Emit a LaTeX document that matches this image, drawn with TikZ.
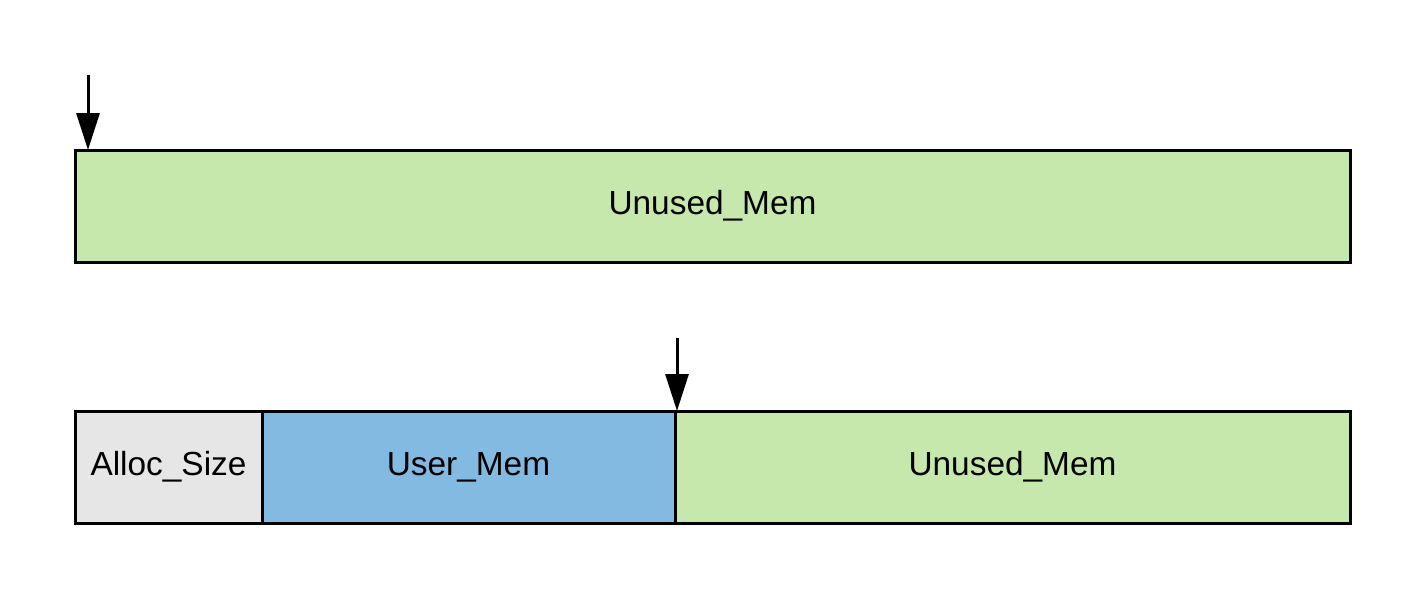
\documentclass[tikz,border=0pt]{standalone}
\usepackage{fontspec}
\setmainfont{Liberation Sans}
\usetikzlibrary{positioning,arrows.meta}

\definecolor{unusedgreen}{HTML}{C7E8AC}
\definecolor{userblue}{HTML}{83BAE2}
\definecolor{allocgray}{HTML}{E6E6E6}

\tikzset{
    membox/.style={draw, line width=3pt, minimum height=112pt, inner sep=0pt, outer sep=0pt,
        font=\fontsize{33.4}{40}\selectfont},
    ptr/.style={-{Triangle[length=37pt,width=23pt]}, line width=3pt}
}

\begin{document}
\begin{tikzpicture}[x=1pt,y=-1pt]
        \useasboundingbox (0,0) rectangle (1425,600);
        % before allocation
        \node[membox, fill=unusedgreen, minimum width=1275pt, anchor=north west] (free) at (75,150) {Unused\_Mem};
        \coordinate (p1) at (88,75);
        \draw[ptr] (p1) -- (p1 |- free.north);
        % after allocation
        \node[membox, fill=allocgray, minimum width=187pt, anchor=north west] (alloc) at (75,411) {Alloc\_Size};
        \node[membox, fill=userblue, minimum width=413pt, right=0pt of alloc] (user) {User\_Mem};
        \node[membox, fill=unusedgreen, minimum width=675pt, right=0pt of user] (rest) {Unused\_Mem};
        \coordinate (p2) at (677,338);
        \draw[ptr] (p2) -- (p2 |- user.north);
    \end{tikzpicture}
\end{document}
